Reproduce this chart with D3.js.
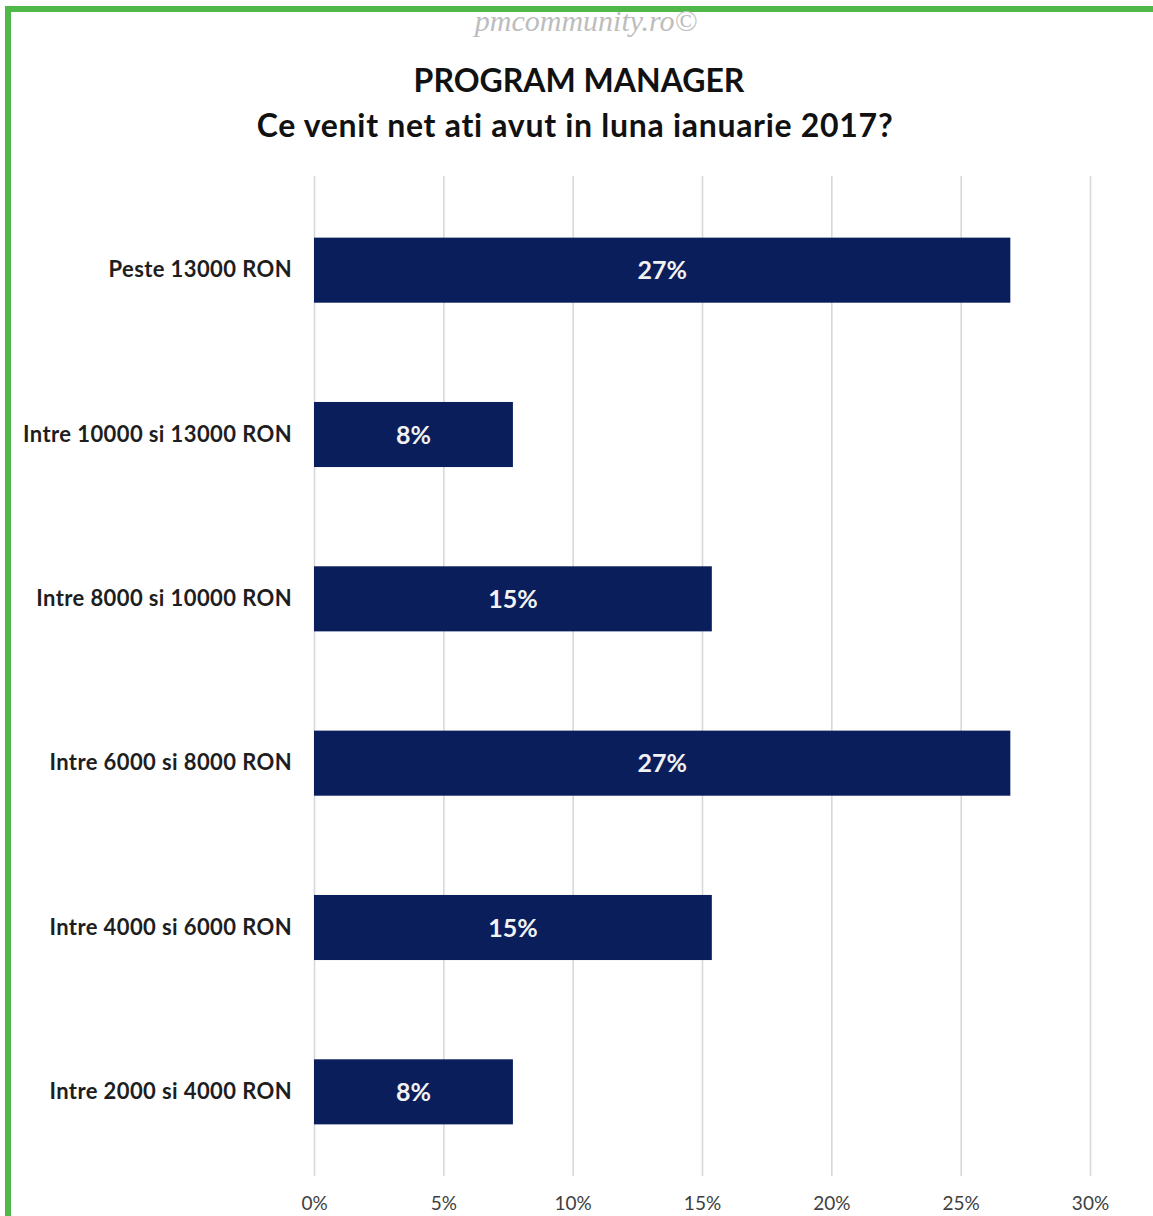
<!DOCTYPE html>
<html>
<head>
<meta charset="utf-8">
<script src="https://cdn.jsdelivr.net/npm/d3@7"></script>
<style>
  html, body { margin: 0; padding: 0; background: #ffffff; }
  svg { display: block; }
</style>
</head>
<body>
<svg id="chart" width="1153" height="1216"></svg>
<script>
// Income brackets, top to bottom
const categories = [
  "Peste 13000 RON",
  "Intre 10000 si 13000 RON",
  "Intre 8000 si 10000 RON",
  "Intre 6000 si 8000 RON",
  "Intre 4000 si 6000 RON",
  "Intre 2000 si 4000 RON"
];
// Share of respondents per bracket
const shares = [0.2692, 0.0769, 0.1538, 0.2692, 0.1538, 0.0769];
// Axis ticks
const tickValues = [0, 0.05, 0.10, 0.15, 0.20, 0.25, 0.30];

const titleLine1 = "PROGRAM MANAGER";
const titleLine2 = "Ce venit net ati avut in luna ianuarie 2017?";
const watermark = "pmcommunity.ro\u00A9";

const svg = d3.select("#chart");
const W = 1153, H = 1216;

const x = d3.scaleLinear().domain([0, 0.30]).range([314, 1090]);
const y = d3.scaleBand().domain(categories).range([188, 1174])
  .paddingInner(0.604).paddingOuter(0.302);

const pct = d3.format(".0%");
const font = "Lato, 'Open Sans', sans-serif";

// Frame: green rule along the left and top edges
svg.append("path")
  .attr("d", `M8,${H} L8,9 L${W},9`)
  .attr("fill", "none")
  .attr("stroke", "#4fb848")
  .attr("stroke-width", 6);

// Watermark
svg.append("text")
  .attr("x", 586).attr("y", 31)
  .attr("text-anchor", "middle")
  .attr("font-family", "'Liberation Serif', 'DejaVu Serif', serif")
  .attr("font-style", "italic")
  .attr("font-size", 30)
  .attr("fill", "#bdbdbd")
  .text(watermark);

// Titles
svg.append("text")
  .attr("x", 579).attr("y", 92)
  .attr("text-anchor", "middle")
  .attr("font-family", font).attr("font-weight", 700)
  .attr("font-size", 32).attr("fill", "#111")
  .text(titleLine1);
svg.append("text")
  .attr("x", 575).attr("y", 137)
  .attr("text-anchor", "middle")
  .attr("font-family", font).attr("font-weight", 700)
  .attr("font-size", 32).attr("letter-spacing", 0.7).attr("fill", "#111")
  .text(titleLine2);

// Vertical gridlines and bottom tick labels
const xAxis = d3.axisBottom(x)
  .tickValues(tickValues)
  .tickFormat(pct)
  .tickSize(-(1176 - 176))
  .tickPadding(21);

const gx = svg.append("g")
  .attr("transform", "translate(0,1176)")
  .call(xAxis);
gx.select(".domain").remove();
gx.selectAll(".tick line").attr("stroke", "#d6d6d6").attr("stroke-width", 1.5);
gx.selectAll(".tick text")
  .attr("font-family", font)
  .attr("font-size", 19)
  .attr("fill", "#404040");

// Category labels
const yAxis = d3.axisLeft(y).tickSize(0).tickPadding(22);
const gy = svg.append("g")
  .attr("transform", "translate(314,0)")
  .call(yAxis);
gy.select(".domain").remove();
gy.selectAll(".tick text")
  .attr("font-family", font)
  .attr("font-weight", 700)
  .attr("font-size", 22)
  .attr("letter-spacing", 0.4)
  .attr("fill", "#1e1e1e");

// Bars
const rows = categories.map((c, i) => ({ cat: c, v: shares[i] }));
svg.append("g").selectAll("rect")
  .data(rows)
  .join("rect")
  .attr("x", x(0))
  .attr("y", d => y(d.cat))
  .attr("width", d => x(d.v) - x(0))
  .attr("height", y.bandwidth())
  .attr("fill", "#0a1e5b");

// Value labels centered in each bar
svg.append("g").selectAll("text")
  .data(rows)
  .join("text")
  .attr("x", d => (x(0) + x(d.v)) / 2)
  .attr("y", d => y(d.cat) + y.bandwidth() / 2)
  .attr("dy", "0.36em")
  .attr("text-anchor", "middle")
  .attr("font-family", font)
  .attr("font-weight", 700)
  .attr("font-size", 25)
  .attr("fill", "#f2f2f2")
  .text(d => pct(d.v));
</script>
</body>
</html>
